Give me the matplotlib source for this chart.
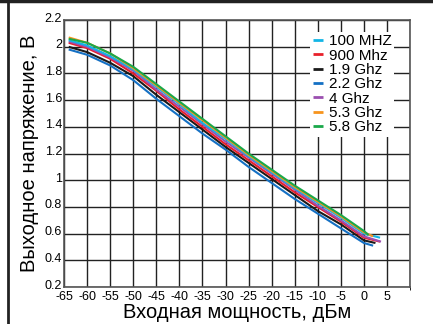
import matplotlib
matplotlib.use("Agg")
import matplotlib.pyplot as plt
import matplotlib.transforms as mtransforms
from matplotlib.lines import Line2D

# input power, dBm (last point of each curve differs a bit)
x_main = [-64, -60, -55, -50, -45, -40, -35, -30, -25, -20, -15, -10, -5, 0]

labels = ["100 MHZ", "900 Mhz", "1.9 Ghz", "2.2 Ghz", "4 Ghz", "5.3 Ghz", "5.8 Ghz"]
colors = ["#12b5e6", "#e8202a", "#1a1a1a", "#1470c4", "#9b4fb0", "#f7941d", "#1aa84a"]
x_end = [3.5, 3.5, 2.5, 2.0, 3.7, 2.0, 1.0]

v_100m = [2.05, 2.01, 1.93, 1.83, 1.70, 1.57, 1.43, 1.31, 1.18, 1.06, 0.94, 0.83, 0.72, 0.60, 0.57]
v_900m = [2.03, 1.99, 1.91, 1.80, 1.67, 1.53, 1.40, 1.27, 1.15, 1.03, 0.91, 0.80, 0.69, 0.57, 0.54]
v_1g9 = [2.00, 1.96, 1.88, 1.78, 1.64, 1.51, 1.38, 1.25, 1.13, 1.01, 0.89, 0.77, 0.67, 0.55, 0.53]
v_2g2 = [1.98, 1.94, 1.86, 1.75, 1.61, 1.48, 1.35, 1.23, 1.10, 0.98, 0.86, 0.75, 0.64, 0.53, 0.51]
v_4g = [2.04, 2.00, 1.92, 1.82, 1.68, 1.55, 1.42, 1.29, 1.17, 1.05, 0.93, 0.81, 0.70, 0.58, 0.54]
v_5g3 = [2.07, 2.03, 1.95, 1.84, 1.71, 1.58, 1.45, 1.32, 1.19, 1.07, 0.95, 0.84, 0.73, 0.61, 0.58]
v_5g8 = [2.06, 2.03, 1.95, 1.85, 1.72, 1.59, 1.46, 1.33, 1.20, 1.08, 0.96, 0.85, 0.74, 0.62, 0.59]
series = [v_100m, v_900m, v_1g9, v_2g2, v_4g, v_5g3, v_5g8]
zorders = [5, 4, 3, 2, 4.5, 5.5, 6]

xticks = list(range(-65, 10, 5))
xtick_labels = [str(v) for v in xticks]  # plain hyphen, narrow like the original
yticks = [0.2, 0.4, 0.6, 0.8, 1, 1.2, 1.4, 1.6, 1.8, 2, 2.2]
ytick_labels = ["0.2", "0.4", "0.6", "0.8", "1", "1.2", "1.4", "1.6", "1.8", "2", "2.2"]

fnt = "Liberation Sans"

fig = plt.figure(figsize=(4.33, 3.24), dpi=100)
ax = fig.add_axes([0.148, 0.114, 0.799, 0.824])

for vals, xe, c, lab, z in zip(series, x_end, colors, labels, zorders):
    ax.plot(x_main + [xe], vals, color=c, lw=1.5, label=lab, zorder=z,
            solid_capstyle="butt")

ax.set_xlim(-65, 10)
ax.set_ylim(0.2, 2.2)
ax.set_xticks(xticks)
ax.set_xticklabels(xtick_labels)
ax.set_xticks([10], minor=True)
ax.set_yticks(yticks)
ax.set_yticklabels(ytick_labels)
ax.grid(True, which="both", color="#222222", lw=1.0)
ax.tick_params(length=0, labelsize=9)
ax.tick_params(axis="x", pad=3)
ax.tick_params(axis="y", pad=1.5)

# y labels sit a little above their grid line in the original
shift = mtransforms.ScaledTranslation(0, 3 / 100, fig.dpi_scale_trans)
for t in ax.get_yticklabels():
    t.set_transform(t.get_transform() + shift)
for t in ax.get_xticklabels() + ax.get_yticklabels():
    t.set_family(fnt)
for s in ax.spines.values():
    s.set_color("#555555")
    s.set_linewidth(1.2)

ax.set_xlabel("Входная мощность, дБм", fontsize=14.5, family=fnt, labelpad=0)
ax.set_ylabel("Выходное напряжение, В", fontsize=14.5, family=fnt, labelpad=4)

leg = ax.legend(loc="upper right", bbox_to_anchor=(0.955, 0.955), borderaxespad=0,
                frameon=True, fancybox=False, edgecolor="none", facecolor="white",
                framealpha=1, handlelength=0.7, handletextpad=0.4, labelspacing=0.02,
                borderpad=0.15, prop={"family": fnt, "size": 11})
leg.set_zorder(10)
for h in leg.legend_handles:
    h.set_linewidth(2.0)

# frame lines of the figure (top and left)
fig.add_artist(Line2D([0, 1], [0.996, 0.996], color="#222222", lw=2.5, transform=fig.transFigure))
fig.add_artist(Line2D([0.019, 0.019], [0, 1], color="#222222", lw=2.0, transform=fig.transFigure))

fig.savefig("out.png", dpi=100)
